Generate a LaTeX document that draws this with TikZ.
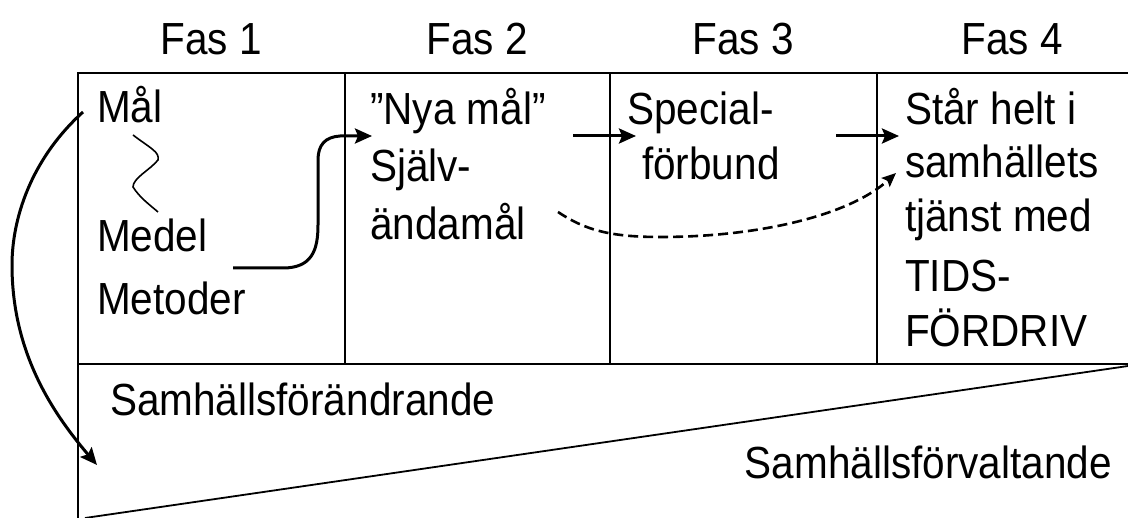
\documentclass[tikz,border=0pt]{standalone}
\usepackage{fontspec}
\setmainfont{Liberation Sans}[FakeStretch=0.9]
\usetikzlibrary{arrows.meta,calc}
\begin{document}
\begin{tikzpicture}[x=1pt,y=-1pt,
  txt/.style={font=\fontsize{45}{50}\selectfont, inner sep=0pt, anchor=base west},
  hdr/.style={font=\fontsize{45}{50}\selectfont, inner sep=0pt, anchor=base},
  frame/.style={line width=1.8pt, black},
  conn/.style={line width=3pt, -{Stealth[length=17pt,width=15pt,inset=3pt]}},
  dconn/.style={line width=2.6pt, dash pattern=on 10pt off 5pt, -{Stealth[length=14pt,width=12pt,inset=2.5pt]}},
  squig/.style={line width=1.6pt}]
\useasboundingbox (0,0) rectangle (1128,518);
% frame
\draw[frame] (1128,73) -- (78,73) -- (78,518);
\draw[frame] (78,364) -- (1128,364);
\draw[frame] (345,73) -- (345,364);
\draw[frame] (610,73) -- (610,364);
\draw[frame] (877,73) -- (877,364);
\draw[frame] (1128,366) -- (85,518);
% headers
\node[hdr] (f1) at (211,55) {Fas 1};
\node[hdr] (f2) at (477,55) {Fas 2};
\node[hdr] (f3) at (743,55) {Fas 3};
\node[hdr] (f4) at (1012,55) {Fas 4};
% column 1
\node[txt] (mal) at (97,123) {Mål};
\node[txt] (medel) at (97,252) {Medel};
\node[txt] (metoder) at (97,315) {Metoder};
% column 2
\node[txt] (nya) at (370,125) {”Nya mål”};
\node[txt] (sjalv) at (370,182) {Själv-};
\node[txt] (andamal) at (370,240) {ändamål};
% column 3
\node[txt] (special) at (627,125) {Special-};
\node[txt] (forbund) at (642,180) {förbund};
% column 4
\node[txt] (star) at (905,125) {Står helt i};
\node[txt] (samh) at (905,178) {samhällets};
\node[txt] (tjanst) at (905,232) {tjänst med};
\node[txt] (tids) at (905,292) {TIDS-};
\node[txt] (fordriv) at (905,347) {FÖRDRIV};
% bottom
\node[txt] (forand) at (110,416) {Samhällsförändrande};
\node[txt, anchor=base east] (forvalt) at (1112,479) {Samhällsförvaltande};
% connectors
\coordinate (tip1) at (97,465);
\draw[squig] ($(mal.base west)+(36,12)$) .. controls (150,148) and (160,152) .. (158,160)
  .. controls (150,170) and (133,178) .. (133,187) .. controls (140,198) and (150,205) .. ($(medel.base west)+(61,-40)$);
\draw[conn] ($(mal.base west)+(-14,-11)$) .. controls (30,160) and (12,220) .. (12,265)
  .. controls (12,350) and (50,410) .. (tip1);
\draw[conn] ($(medel.base west)+(136,16)$) -- (283,268) .. controls (312,268) and (318,250) .. (318,225)
  -- (318,160) .. controls (318,145) and (325,137) .. (340,136) -- ($(nya.base west)+(2,11)$);
\draw[conn] ($(nya.base west)+(203,11)$) -- ($(special.base west)+(9,11)$);
\draw[conn] ($(special.base west)+(209,11)$) -- ($(star.base west)+(-6,11)$);
\draw[dconn] ($(andamal.base west)+(188,-28)$) .. controls (585,230) and (610,237) .. (660,237)
  .. controls (760,237) and (850,215) .. ($(samh.base west)+(-9,-5)$);
\end{tikzpicture}
\end{document}
